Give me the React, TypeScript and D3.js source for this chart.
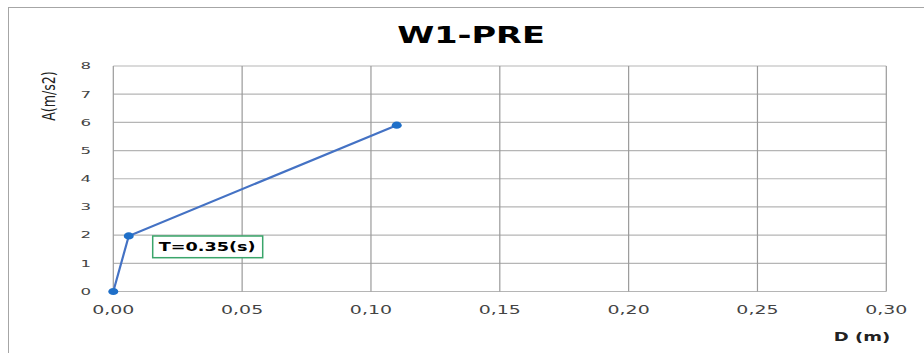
import React from "react";
import * as d3 from "d3";

const dValues = [0, 0.006, 0.11];
const aValues = [0, 1.97, 5.9];
const xTicks = [0, 0.05, 0.1, 0.15, 0.2, 0.25, 0.3];
const yTicks = [0, 1, 2, 3, 4, 5, 6, 7, 8];
const title = "W1-PRE";
const xLabel = "D (m)";
const yLabel = "A(m/s2)";
const annotation = "T=0.35(s)";

function SText(props: {
  x: number; y: number; sx: number; anchor: string; size: number;
  bold?: boolean; fill: string; family?: string; children: React.ReactNode;
}) {
  return (
    <text
      transform={`translate(${props.x},${props.y}) scale(${props.sx},1)`}
      textAnchor={props.anchor}
      dy="0.35em"
      fontFamily={props.family || "DejaVu Sans"}
      fontWeight={props.bold ? "bold" : "normal"}
      fontSize={props.size}
      fill={props.fill}
    >
      {props.children}
    </text>
  );
}

export default function App() {
  const W = 924, H = 353;
  const x = d3.scaleLinear().domain([0, 0.3]).range([113.3, 886.3]);
  const y = d3.scaleLinear().domain([0, 8]).range([291.5, 66]);
  const pts = dValues.map((d, i) => [x(d), y(aValues[i])] as [number, number]);
  const line = d3.line()(pts) || "";
  const fmt = (v: number) => v.toFixed(2).replace(".", ",");
  return (
    <svg width={W} height={H} style={{ position: "absolute", left: 0, top: 0, background: "#fff" }}>
      <rect x={8.5} y={7.5} width={W} height={H} fill="#fff" stroke="#a6a6a6" strokeWidth={1} />
      <SText x={471} y={35} sx={1.46} anchor="middle" size={23} bold fill="#000">{title}</SText>
      {yTicks.map((t) => (
        <line key={"gy" + t} x1={x(0)} x2={x(0.3)} y1={y(t)} y2={y(t)} stroke="#b5b5b5" strokeWidth={1.2} />
      ))}
      {xTicks.map((t) => (
        <line key={"gx" + t} x1={x(t)} x2={x(t)} y1={y(0)} y2={y(8)} stroke="#9a9a9a" strokeWidth={1.2} />
      ))}
      {yTicks.map((t) => (
        <SText key={"ty" + t} x={91} y={y(t)} sx={1.75} anchor="end" size={9.5} fill="#444">{t}</SText>
      ))}
      {xTicks.map((t) => (
        <SText key={"tx" + t} x={x(t)} y={310} sx={1.65} anchor="middle" size={11.5} fill="#444">{fmt(t)}</SText>
      ))}
      <text transform="translate(49,96) scale(1.25,1) rotate(-90)" textAnchor="middle" dy="0.35em" fontFamily="DejaVu Sans Condensed, DejaVu Sans" fontSize={14} fill="#222">{yLabel}</text>
      <SText x={862} y={337} sx={1.5} anchor="middle" size={12} bold fill="#222">{xLabel}</SText>
      <path d={line} fill="none" stroke="#4472c4" strokeWidth={2.2} />
      {pts.map((p, i) => (
        <ellipse key={"m" + i} cx={p[0]} cy={p[1]} rx={5} ry={3.6} fill="#1f6fc8" />
      ))}
      <rect x={152.7} y={236} width={110} height={21.7} fill="#fff" stroke="#3aa56a" strokeWidth={1.5} />
      <SText x={207.2} y={247} sx={1.47} anchor="middle" size={12} bold fill="#000">{annotation}</SText>
    </svg>
  );
}
